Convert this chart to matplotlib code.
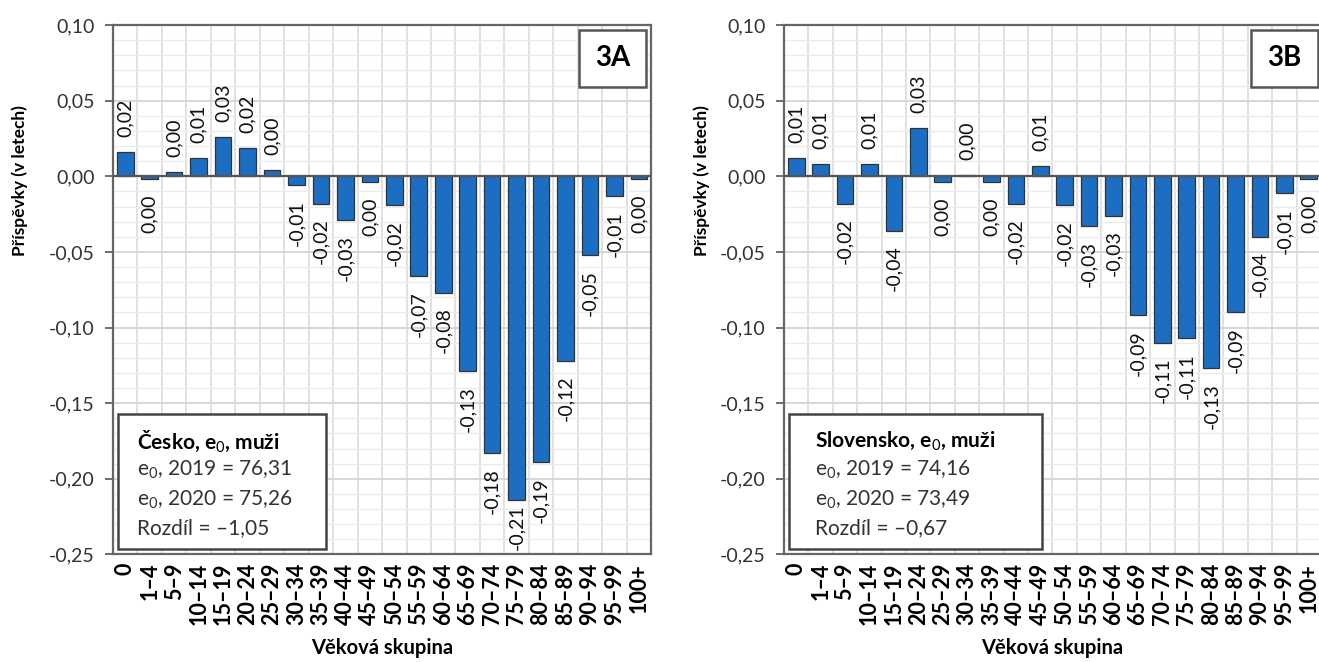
import matplotlib
matplotlib.use("Agg")
from matplotlib import pyplot as plt
from matplotlib.patches import Rectangle
from matplotlib.ticker import MultipleLocator, FuncFormatter

plt.rcParams['font.family'] = ['Lato', 'DejaVu Sans']
plt.rcParams['mathtext.fontset'] = 'custom'
plt.rcParams['mathtext.rm'] = 'Lato'
plt.rcParams['mathtext.it'] = 'Lato:italic'
plt.rcParams['mathtext.bf'] = 'Lato:bold'

age_groups = ["0", "1–4", "5–9", "10–14", "15–19", "20–24", "25–29", "30–34",
              "35–39", "40–44", "45–49", "50–54", "55–59", "60–64", "65–69",
              "70–74", "75–79", "80–84", "85–89", "90–94", "95–99", "100+"]

cz_values = [0.016, -0.002, 0.003, 0.012, 0.026, 0.019, 0.004, -0.006,
             -0.018, -0.029, -0.004, -0.019, -0.066, -0.077, -0.129,
             -0.183, -0.214, -0.189, -0.122, -0.052, -0.013, -0.002]

sk_values = [0.012, 0.008, -0.018, 0.008, -0.036, 0.032, -0.004, 0.001,
             -0.004, -0.018, 0.007, -0.019, -0.033, -0.026, -0.092,
             -0.110, -0.107, -0.127, -0.090, -0.040, -0.011, -0.002]

cz_info = ["Česko", "76,31", "75,26", "–1,05"]
sk_info = ["Slovensko", "74,16", "73,49", "–0,67"]

BLUE = '#1c6ec2'
YMIN, YMAX = -0.25, 0.10


def fmt_comma(v, pos=None):
    s = f"{v:.2f}".replace('.', ',')
    if s == "-0,00":
        s = "0,00"
    return s


def draw_panel(ax, values, tag, info, inset_w, ylab_x):
    x = list(range(len(values)))
    ax.bar(x, values, width=0.68, color=BLUE, edgecolor='#333333', linewidth=0.9, zorder=3)

    gap = 0.0098   # distance between bar end and its label (data units)
    lab_len = 0.030  # rough length of a rotated label (data units)
    for i, v in enumerate(values):
        lab = fmt_comma(v)
        if v >= 0:
            ax.text(i, v + gap, lab, rotation=90, ha='center', va='bottom',
                    fontsize=14, color='#111111', zorder=5)
        elif v - gap - lab_len < YMIN:
            # no room under the bar, Excel pushes the label up
            ax.text(i, YMIN + 0.003, lab, rotation=90, ha='center', va='bottom',
                    fontsize=14, color='#111111', zorder=5)
        else:
            ax.text(i, v - gap, lab, rotation=90, ha='center', va='top',
                    fontsize=14, color='#111111', zorder=5)

    ax.set_xlim(-0.5, len(values) - 0.5)
    ax.set_ylim(YMIN, YMAX)
    ax.yaxis.set_major_locator(MultipleLocator(0.05))
    ax.yaxis.set_minor_locator(MultipleLocator(0.01))
    ax.yaxis.set_major_formatter(FuncFormatter(fmt_comma))
    ax.set_xticks(x)
    ax.set_xticklabels(age_groups, rotation=90, fontweight='bold', fontsize=15.5)
    ax.set_xticks([i + 0.5 for i in x[:-1]], minor=True)
    ax.tick_params(axis='x', which='both', length=0, pad=6)
    ax.tick_params(axis='y', which='major', length=6, width=1.2, color='#555555',
                   labelsize=14, labelcolor='#333333', pad=7)
    ax.tick_params(axis='y', which='minor', length=0)

    ax.grid(True, axis='x', which='minor', color='#dcdcdc', linewidth=1.2, zorder=0)
    ax.grid(True, axis='y', which='major', color='#d4d4d4', linewidth=1.3, zorder=0)
    ax.grid(True, axis='y', which='minor', color='#ececec', linewidth=1.0, zorder=0)
    ax.axhline(0, color='#555555', linewidth=1.6, zorder=4)

    for sp in ax.spines.values():
        sp.set_color('#666666')
        sp.set_linewidth(1.6)

    ax.set_xlabel("Věková skupina", fontweight='bold', fontsize=14.5, labelpad=9)
    ax.set_ylabel("Příspěvky (v letech)", fontweight='bold', fontsize=12.5)
    ax.yaxis.set_label_coords(ylab_x, 0.707)

    # tag box in the upper right corner
    ax.add_patch(Rectangle((tag[1], 0.883), 0.124, 0.108, transform=ax.transAxes,
                           facecolor='white', edgecolor='#555555', linewidth=1.8, zorder=6))
    ax.text(tag[1] + 0.062, 0.937, tag[0], transform=ax.transAxes, ha='center', va='center',
            fontsize=20, fontweight='bold', zorder=7)

    # info box in the lower left corner
    ax.add_patch(Rectangle((0.009, 0.011), inset_w, 0.255, transform=ax.transAxes,
                           facecolor='white', edgecolor='#444444', linewidth=1.8, zorder=6))
    tx = 0.045 if inset_w < 0.45 else 0.058
    ax.text(tx, 0.214, info[0] + ", e$_0$, muži", transform=ax.transAxes,
            fontsize=15, fontweight='bold', va='center', zorder=7)
    ax.text(tx, 0.159, "e$_0$, 2019 = " + info[1], transform=ax.transAxes,
            fontsize=15, va='center', color='#333333', zorder=7)
    ax.text(tx, 0.103, "e$_0$, 2020 = " + info[2], transform=ax.transAxes,
            fontsize=15, va='center', color='#333333', zorder=7)
    ax.text(tx, 0.049, "Rozdíl = " + info[3], transform=ax.transAxes,
            fontsize=15, va='center', color='#333333', zorder=7)


fig = plt.figure(figsize=(13.19, 6.62), dpi=100)
ax1 = fig.add_axes([0.0857, 0.1624, 0.4079, 0.7998])
ax2 = fig.add_axes([0.5944, 0.1624, 0.4071, 0.7998])

draw_panel(ax1, cz_values, ("3A", 0.866), cz_info, 0.387, -0.158)
draw_panel(ax2, sk_values, ("3B", 0.870), sk_info, 0.471, -0.138)

fig.savefig("out.png", dpi=100)
